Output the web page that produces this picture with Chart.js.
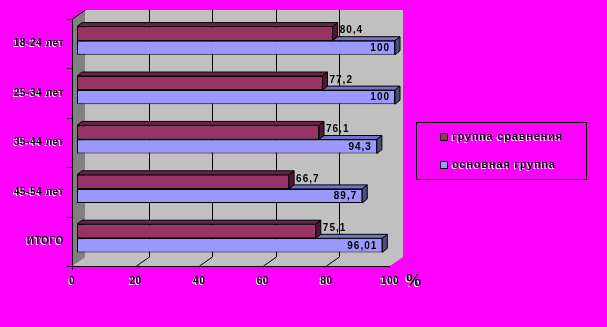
<!DOCTYPE html>
<html lang="ru">
<head>
<meta charset="UTF-8">
<title>группа сравнения / основная группа</title>
<script src="https://cdn.jsdelivr.net/npm/chart.js"></script>
<style>
  body { margin: 0; background: #ff00ff; }
  canvas { display: block; }
</style>
</head>
<body>
<canvas id="ageChart" width="607" height="327"></canvas>
<script>
// данные
const categories = ['18-24 лет', '25-34 лет', '35-44 лет', '45-54 лет', 'ИТОГО'];
const compareGroup = [80.4, 77.2, 76.1, 66.7, 75.1];
const mainGroup = [100, 100, 94.3, 89.7, 96.01];
const seriesNames = ['группа сравнения', 'основная группа'];
const xTicks = [0, 20, 40, 60, 80, 100];

const FAMILY = '"Liberation Sans", Arial, sans-serif';
const WALL = { x: 13, y: 9 };       // глубина стенки
const SHIFT = { x: 5, y: -3 };      // сдвиг столбцов в глубину
const BAR3D = { x: 5, y: 4 };       // толщина столбца
const colors = ['#993366', '#9999ff'];
const faces = [
  { top: '#6b2249', side: '#4d1a33' },
  { top: '#7373c6', side: '#4d4d80' }
];

const fmt = v => String(v).replace('.', ',');

function poly(ctx, pts, fill) {
  ctx.beginPath();
  ctx.moveTo(pts[0][0], pts[0][1]);
  for (let i = 1; i < pts.length; i++) ctx.lineTo(pts[i][0], pts[i][1]);
  ctx.closePath();
  ctx.fillStyle = fill;
  ctx.fill();
  ctx.stroke();
}

function setShadow(ctx, on) {
  ctx.shadowColor = on ? '#ffffff' : 'rgba(0,0,0,0)';
  ctx.shadowOffsetX = on ? -1 : 0;
  ctx.shadowOffsetY = on ? 1 : 0;
  ctx.shadowBlur = 0;
}

const box3d = {
  id: 'box3d',
  beforeDraw(chart) {
    const ctx = chart.ctx;
    const { left, right, top, bottom } = chart.chartArea;
    const xs = chart.scales.x;
    ctx.save();
    setShadow(ctx, false);
    // задняя стенка и пол
    ctx.fillStyle = '#c0c0c0';
    ctx.fillRect(left + WALL.x, top - WALL.y, right - left, bottom - top);
    ctx.beginPath();
    ctx.moveTo(left, bottom);
    ctx.lineTo(right, bottom);
    ctx.lineTo(right + WALL.x, bottom - WALL.y);
    ctx.lineTo(left + WALL.x, bottom - WALL.y);
    ctx.closePath();
    ctx.fill();
    // боковая стенка
    ctx.fillStyle = '#808080';
    ctx.beginPath();
    ctx.moveTo(left, top);
    ctx.lineTo(left + WALL.x, top - WALL.y);
    ctx.lineTo(left + WALL.x, bottom - WALL.y);
    ctx.lineTo(left, bottom);
    ctx.closePath();
    ctx.fill();

    ctx.strokeStyle = '#000';
    ctx.lineWidth = 1;
    ctx.beginPath();
    ctx.moveTo(left + 0.5, top);
    ctx.lineTo(left + WALL.x + 0.5, top - WALL.y);
    // сетка
    xTicks.slice(1, -1).forEach(v => {
      const px = Math.round(xs.getPixelForValue(v)) + 0.5;
      ctx.moveTo(px + WALL.x, top - WALL.y);
      ctx.lineTo(px + WALL.x, bottom - WALL.y);
      ctx.lineTo(px, bottom);
    });
    // оси
    ctx.moveTo(left - 5, bottom + 0.5);
    ctx.lineTo(right, bottom + 0.5);
    ctx.moveTo(left + 0.5, top);
    ctx.lineTo(left + 0.5, bottom + 4);
    const band = (bottom - top) / categories.length;
    for (let i = 0; i <= categories.length; i++) {
      const y = Math.round(top + i * band) + 0.5;
      ctx.moveTo(left - 5, y);
      ctx.lineTo(left, y);
    }
    ctx.stroke();
    ctx.restore();
    // подписи осей с белой тенью и разрядкой
    setShadow(ctx, true);
    ctx.letterSpacing = '0.6px';
  },
  beforeDatasetsDraw(chart) {
    const ctx = chart.ctx;
    setShadow(ctx, false);
    ctx.letterSpacing = '0px';
    ctx.save();
    ctx.translate(SHIFT.x, SHIFT.y);
    ctx.strokeStyle = '#000';
    ctx.lineWidth = 1;
    for (let i = 0; i < categories.length; i++) {
      for (let d = chart.data.datasets.length - 1; d >= 0; d--) {
        const bar = chart.getDatasetMeta(d).data[i];
        const t = bar.y - bar.height / 2, b = bar.y + bar.height / 2;
        poly(ctx, [[bar.base, t], [bar.x, t], [bar.x + BAR3D.x, t - BAR3D.y], [bar.base + BAR3D.x, t - BAR3D.y]], faces[d].top);
        poly(ctx, [[bar.x, t], [bar.x + BAR3D.x, t - BAR3D.y], [bar.x + BAR3D.x, b - BAR3D.y], [bar.x, b]], faces[d].side);
      }
    }
    ctx.restore();
    ctx.save();
    ctx.translate(SHIFT.x, SHIFT.y);
  },
  afterDatasetsDraw(chart) {
    const ctx = chart.ctx;
    ctx.restore();
    ctx.save();
    ctx.font = 'bold 10px ' + FAMILY;
    ctx.letterSpacing = '1px';
    ctx.fillStyle = '#000';
    ctx.textBaseline = 'middle';
    chart.getDatasetMeta(0).data.forEach((bar, i) => {
      ctx.textAlign = 'left';
      ctx.fillText(fmt(compareGroup[i]), bar.x + SHIFT.x + 7, bar.y + SHIFT.y - 3);
    });
    chart.getDatasetMeta(1).data.forEach((bar, i) => {
      ctx.textAlign = 'right';
      ctx.fillText(fmt(mainGroup[i]), bar.x + SHIFT.x - 5, bar.y + SHIFT.y + 0.5);
    });
    ctx.restore();
  },
  afterDraw(chart) {
    const ctx = chart.ctx;
    const { right, bottom } = chart.chartArea;
    ctx.save();
    // знак процента у оси
    setShadow(ctx, true);
    ctx.font = 'bold 17px ' + FAMILY;
    ctx.fillStyle = '#000';
    ctx.textBaseline = 'middle';
    ctx.textAlign = 'left';
    ctx.fillText('%', right + 16, bottom + 15);

    // легенда
    setShadow(ctx, false);
    ctx.strokeStyle = '#000';
    ctx.lineWidth = 1;
    ctx.strokeRect(416.5, 122.5, 170, 57);
    ctx.font = 'bold 11px ' + FAMILY;
    ctx.letterSpacing = '0.8px';
    seriesNames.forEach((name, d) => {
      const y = 137 + d * 27.5;
      setShadow(ctx, false);
      ctx.fillStyle = colors[d];
      ctx.fillRect(441, Math.round(y) - 3, 6, 6);
      ctx.strokeRect(440.5, Math.round(y) - 3.5, 7, 7);
      setShadow(ctx, true);
      ctx.fillStyle = '#000';
      ctx.fillText(name, 452, y);
    });
    ctx.restore();
  }
};

const tickFont = { family: FAMILY, size: 10, weight: 'bold' };

new Chart(document.getElementById('ageChart'), {
  type: 'bar',
  data: {
    labels: categories,
    datasets: [
      { label: seriesNames[0], data: compareGroup, backgroundColor: colors[0] },
      { label: seriesNames[1], data: mainGroup, backgroundColor: colors[1] }
    ]
  },
  options: {
    indexAxis: 'y',
    responsive: false,
    devicePixelRatio: 1,
    animation: false,
    datasets: {
      bar: {
        borderColor: '#000',
        borderWidth: 1,
        borderSkipped: false,
        categoryPercentage: 0.57,
        barPercentage: 1,
        clip: false
      }
    },
    layout: { padding: { top: 19, right: 217, left: 0, bottom: 0 } },
    plugins: {
      legend: { display: false },
      tooltip: { enabled: false }
    },
    scales: {
      x: {
        min: 0,
        max: 100,
        afterBuildTicks: s => { s.ticks = xTicks.map(v => ({ value: v })); },
        ticks: { color: '#000', font: tickFont, padding: 9, maxRotation: 0 },
        grid: { display: false, drawTicks: false },
        border: { display: false },
        afterFit: s => { s.height = 61; }
      },
      y: {
        ticks: { color: '#000', font: tickFont, padding: 8 },
        grid: { display: false, drawTicks: false },
        border: { display: false },
        afterFit: s => { s.width = 72; }
      }
    }
  },
  plugins: [box3d]
});
</script>
</body>
</html>
